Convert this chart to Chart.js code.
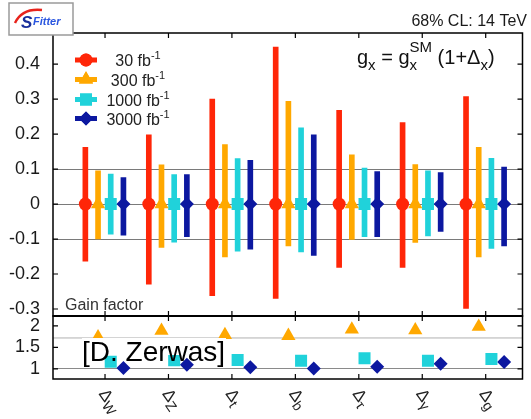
<!DOCTYPE html>
<html>
<head>
<meta charset="utf-8">
<script src="https://cdn.jsdelivr.net/npm/chart.js@4.4.0/dist/chart.umd.min.js"></script>
<style>
  body { margin: 0; background: #fff; }
  #wrap { position: relative; width: 531px; height: 419px; }
  #wrap canvas { position: absolute; left: 0; top: 0; }
</style>
</head>
<body>
<div id="wrap">
  <canvas id="mainChart" width="531" height="419"></canvas>
  <canvas id="gainChart" width="531" height="419"></canvas>
</div>
<script>
// couplings on the x axis (Delta_x)
const couplings = ['W', 'Z', 't', 'b', 'τ', 'γ', 'g'];
const lumiLabels = ['30', '300', '1000', '3000'];
const lumiColors = ['rgb(255,38,8)', 'rgb(255,168,0)', 'rgb(32,210,218)', 'rgb(12,24,160)'];
const pointStyles = ['circle', 'triangle', 'rect', 'rectRot'];
const pointSizes = [6.5, 8.2, 8.5, 7];
const offsets = [-0.31, -0.11, 0.09, 0.29];

// 68% CL intervals on Delta_x
const upper30 = [0.162, 0.198, 0.300, 0.449, 0.268, 0.233, 0.307];
const lower30 = [-0.163, -0.229, -0.262, -0.270, -0.181, -0.181, -0.298];
const upper300 = [0.095, 0.112, 0.170, 0.294, 0.141, 0.113, 0.162];
const lower300 = [-0.100, -0.124, -0.151, -0.120, -0.101, -0.110, -0.151];
const upper1000 = [0.086, 0.084, 0.130, 0.218, 0.103, 0.095, 0.131];
const lower1000 = [-0.086, -0.109, -0.135, -0.137, -0.093, -0.091, -0.127];
const upper3000 = [0.076, 0.084, 0.125, 0.198, 0.093, 0.090, 0.106];
const lower3000 = [-0.089, -0.093, -0.129, -0.147, -0.093, -0.078, -0.120];

// gain factor relative to 30 fb-1
const gain300 = [1.74, 1.89, 1.79, 1.77, 1.92, 1.90, 1.98];
const gain1000 = [1.17, 1.20, 1.21, 1.19, 1.25, 1.19, 1.23];
const gain3000 = [1.02, 1.10, 1.04, 1.01, 1.05, 1.12, 1.16];

const mainTicks = [-0.3, -0.2, -0.1, 0, 0.1, 0.2, 0.3, 0.4];
const gainTicks = [1, 1.5, 2];
const gainRefLine = 1.72;

const uppers = [upper30, upper300, upper1000, upper3000];
const lowers = [lower30, lower300, lower1000, lower3000];
const gains = [null, gain300, gain1000, gain3000];

const FONT = '"Liberation Sans", Arial, Helvetica, sans-serif';

function fmtTick(v) {
    if (Math.abs(v) < 1e-9) return '0';
    return (Math.round(v * 10) / 10).toString();
}

function drawFrame(chart, yVals, topWidth) {
    const { ctx, chartArea: a, scales } = chart;
    ctx.save();
    ctx.strokeStyle = '#000';
    ctx.lineWidth = 1.5;
    ctx.strokeRect(a.left, a.top, a.right - a.left, a.bottom - a.top);
    if (topWidth) {
        ctx.lineWidth = topWidth;
        ctx.beginPath();
        ctx.moveTo(a.left, a.top);
        ctx.lineTo(a.right, a.top);
        ctx.stroke();
    }
    ctx.lineWidth = 1.2;
    ctx.beginPath();
    yVals.forEach(v => {
        const py = scales.y.getPixelForValue(v);
        ctx.moveTo(a.left, py); ctx.lineTo(a.left + 5, py);
        ctx.moveTo(a.right, py); ctx.lineTo(a.right - 5, py);
    });
    couplings.forEach((c, i) => {
        const px = scales.x.getPixelForValue(i);
        ctx.moveTo(px, a.top); ctx.lineTo(px, a.top + 5);
        ctx.moveTo(px, a.bottom); ctx.lineTo(px, a.bottom - 5);
    });
    ctx.stroke();
    ctx.restore();
}

function drawPieces(ctx, x, y, pieces) {
    pieces.forEach(p => {
        ctx.font = p.size + 'px ' + FONT;
        ctx.fillText(p.text, x, y + (p.dy || 0));
        x += ctx.measureText(p.text).width;
    });
    return x;
}

const mainPlugin = {
    id: 'mainDecor',
    afterDraw(chart) {
        const ctx = chart.ctx;
        drawFrame(chart, mainTicks);
        ctx.save();
        ctx.fillStyle = '#1a1a1a';
        ctx.textBaseline = 'alphabetic';

        // top right label
        ctx.font = '16px ' + FONT;
        ctx.textAlign = 'right';
        ctx.fillText('68% CL: 14 TeV', 527, 26);
        ctx.textAlign = 'left';

        // formula
        ctx.fillStyle = '#111';
        let x = drawPieces(ctx, 357, 64, [
            { text: 'g', size: 20 }, { text: 'x', size: 15, dy: 6 },
            { text: ' = g', size: 20 }
        ]);
        ctx.font = '15px ' + FONT;
        ctx.fillText('x', x, 70);
        ctx.fillText('SM', x, 52);
        x += ctx.measureText('SM').width;
        drawPieces(ctx, x, 64, [
            { text: ' (1+Δ', size: 20 }, { text: 'x', size: 15, dy: 6 }, { text: ')', size: 20 }
        ]);

        // legend
        const rows = [60, 79.5, 99.5, 118.5];
        lumiLabels.forEach((lumi, s) => {
            const cy = rows[s];
            ctx.fillStyle = lumiColors[s];
            ctx.fillRect(75, cy - 2.5, 22, 5);
            Chart.helpers.drawPoint(ctx, {
                pointStyle: pointStyles[s], radius: pointSizes[s], rotation: 0, borderWidth: 0
            }, 86, cy);
            ctx.fill();
            ctx.fillStyle = '#222';
            ctx.font = '16px ' + FONT;
            const w1 = ctx.measureText(lumi + ' fb').width;
            ctx.font = '11px ' + FONT;
            const w2 = ctx.measureText('-1').width;
            drawPieces(ctx, 138 - (w1 + w2) / 2, cy + 6, [
                { text: lumi + ' fb', size: 16 }, { text: '-1', size: 11, dy: -7 }
            ]);
        });

        // gain factor caption
        ctx.fillStyle = '#333';
        ctx.font = '16px ' + FONT;
        ctx.fillText('Gain factor', 65, 310);

        // SFitter logo
        ctx.fillStyle = '#fff';
        ctx.fillRect(9, 3, 64, 32);
        ctx.strokeStyle = '#9a9a9a';
        ctx.lineWidth = 1.5;
        ctx.strokeRect(9, 3, 64, 32);
        ctx.strokeStyle = '#e8231c';
        ctx.lineWidth = 2.5;
        ctx.beginPath();
        ctx.moveTo(15, 23);
        ctx.quadraticCurveTo(22, 8, 42, 10);
        ctx.stroke();
        ctx.fillStyle = '#1a2f9c';
        ctx.font = 'italic bold 17px ' + FONT;
        ctx.fillText('S', 21, 28);
        ctx.fillStyle = '#2a56e0';
        ctx.font = 'italic bold 11px ' + FONT;
        ctx.fillText('Fitter', 33, 25);
        ctx.restore();
    }
};

const gainPlugin = {
    id: 'gainDecor',
    beforeDatasetsDraw(chart) {
        const { ctx, chartArea: a, scales } = chart;
        const py = scales.y.getPixelForValue(gainRefLine);
        ctx.save();
        ctx.strokeStyle = '#b0b0b0';
        ctx.lineWidth = 1;
        ctx.beginPath();
        ctx.moveTo(a.left, py);
        ctx.lineTo(a.right, py);
        ctx.stroke();
        ctx.restore();
    },
    afterDraw(chart) {
        const { ctx, scales } = chart;
        drawFrame(chart, gainTicks, 2.2);
        ctx.save();
        // rotated coupling labels
        ctx.fillStyle = '#222';
        ctx.textBaseline = 'middle';
        couplings.forEach((c, i) => {
            const px = scales.x.getPixelForValue(i);
            ctx.save();
            ctx.translate(px - 3, 391);
            ctx.rotate(55 * Math.PI / 180);
            ctx.font = '17px ' + FONT;
            ctx.fillText('Δ', 0, 0);
            const w = ctx.measureText('Δ').width;
            ctx.font = '14px ' + FONT;
            ctx.fillText(c, w, 5);
            ctx.restore();
        });
        // author tag
        ctx.fillStyle = '#fff';
        ctx.fillRect(82, 338, 144, 17);
        ctx.fillStyle = '#000';
        ctx.textBaseline = 'alphabetic';
        ctx.font = '28px ' + FONT;
        ctx.fillText('[D. Zerwas]', 82, 361);
        ctx.restore();
    }
};

const mainDatasets = [];
lumiLabels.forEach((lumi, s) => {
    mainDatasets.push({
        type: 'line',
        label: lumi + ' fb-1',
        data: couplings.map((c, i) => ({ x: i + offsets[s], y: 0 })),
        showLine: false,
        pointStyle: pointStyles[s],
        pointRadius: pointSizes[s],
        pointBackgroundColor: lumiColors[s],
        pointBorderWidth: 0,
        order: 0
    });
});
lumiLabels.forEach((lumi, s) => {
    mainDatasets.push({
        type: 'bar',
        label: lumi + ' fb-1 interval',
        data: couplings.map((c, i) => ({ x: i + offsets[s], y: [lowers[s][i], uppers[s][i]] })),
        backgroundColor: lumiColors[s],
        borderWidth: 0,
        barThickness: 5,
        grouped: false,
        order: 1
    });
});

const gainDatasets = [];
lumiLabels.forEach((lumi, s) => {
    if (!gains[s]) return;
    gainDatasets.push({
        type: 'line',
        label: lumi + ' fb-1 gain',
        data: couplings.map((c, i) => ({ x: i + offsets[s], y: gains[s][i] })),
        showLine: false,
        pointStyle: pointStyles[s],
        pointRadius: pointSizes[s],
        pointBackgroundColor: lumiColors[s],
        pointBorderWidth: 0
    });
});

function makeXScale() {
    return { type: 'linear', min: -0.82, max: 6.58, offset: false, display: false };
}

new Chart(document.getElementById('mainChart'), {
    type: 'bar',
    data: { datasets: mainDatasets },
    options: {
        responsive: false,
        animation: false,
        layout: { padding: { top: 33, bottom: 103, left: 0, right: 3 } },
        scales: {
            x: makeXScale(),
            y: {
                type: 'linear',
                min: -0.32,
                max: 0.489,
                afterBuildTicks: s => { s.ticks = mainTicks.map(v => ({ value: v })); },
                afterFit: s => { s.width = 53; },
                border: { display: false },
                grid: {
                    drawTicks: false,
                    color: c => (c.tick && Math.abs(c.tick.value) < 0.15) ? '#7a7a7a' : 'rgba(0,0,0,0)'
                },
                ticks: {
                    padding: 13,
                    color: '#1a1a1a',
                    font: { family: FONT, size: 18 },
                    callback: v => fmtTick(v)
                }
            }
        },
        plugins: { legend: { display: false }, tooltip: { enabled: false } }
    },
    plugins: [mainPlugin]
});

new Chart(document.getElementById('gainChart'), {
    type: 'line',
    data: { datasets: gainDatasets },
    options: {
        responsive: false,
        animation: false,
        layout: { padding: { top: 316, bottom: 40, left: 0, right: 3 } },
        scales: {
            x: makeXScale(),
            y: {
                type: 'linear',
                min: 0.767,
                max: 2.23,
                afterBuildTicks: s => { s.ticks = gainTicks.map(v => ({ value: v })); },
                afterFit: s => { s.width = 53; },
                border: { display: false },
                grid: {
                    drawTicks: false,
                    color: c => (c.tick && c.tick.value === 1) ? '#8a8a8a' : 'rgba(0,0,0,0)'
                },
                ticks: {
                    padding: 13,
                    color: '#1a1a1a',
                    font: { family: FONT, size: 18 },
                    callback: v => fmtTick(v)
                }
            }
        },
        plugins: { legend: { display: false }, tooltip: { enabled: false } }
    },
    plugins: [gainPlugin]
});
</script>
</body>
</html>
